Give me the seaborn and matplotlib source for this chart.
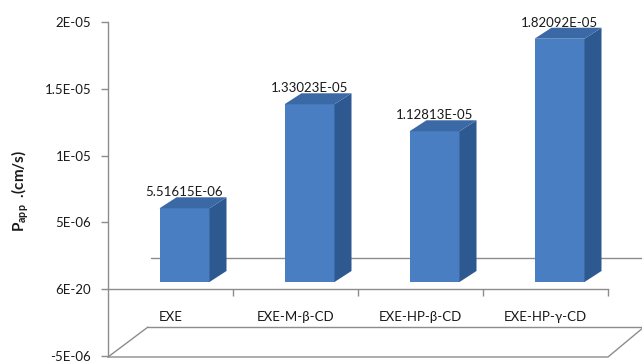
import matplotlib
matplotlib.use("Agg")
import matplotlib.pyplot as plt
import seaborn as sns
import pandas as pd
from matplotlib.patches import Polygon

# Apparent permeability per formulation
categories = ["EXE", "EXE-M-β-CD", "EXE-HP-β-CD", "EXE-HP-γ-CD"]
papp_values = [5.51615e-06, 1.33023e-05, 1.12813e-05, 1.82092e-05]
ytick_values = [2e-05, 1.5e-05, 1e-05, 5e-06, 0.0, -5e-06]
ytick_labels = ["2E-05", "1.5E-05", "1E-05", "5E-06", "6E-20", "-5E-06"]

sns.set_style("white")
plt.rcParams["font.family"] = ["Lato", "DejaVu Sans"]
plt.rcParams["mathtext.fontset"] = "custom"
plt.rcParams["mathtext.rm"] = "Lato"
plt.rcParams["mathtext.bf"] = "Lato:bold"

W, H = 642, 362
fig = plt.figure(figsize=(W / 100, H / 100), dpi=100)
AX_L, AX_R, AX_T, AX_B = 108, 642, 22, 356
ax = fig.add_axes([AX_L / W, 1 - AX_B / H, (AX_R - AX_L) / W, (AX_B - AX_T) / H])

YMIN, YMAX = -5e-06, 2e-05
SLOT = 125.0                      # pixels per category
XMIN = -(184.5 - AX_L) / SLOT
XMAX = XMIN + (AX_R - AX_L) / SLOT
SHIFT = 0.112                     # perspective shift of the columns inside each slot


def to_data(px, py):
    """Pixel position inside the figure -> data coordinates."""
    x = XMIN + (px - AX_L) / (AX_R - AX_L) * (XMAX - XMIN)
    y = YMAX - (py - AX_T) / (AX_B - AX_T) * (YMAX - YMIN)
    return x, y


FRONT = "#4A7EC2"
SIDE = "#2E5890"
TOP = "#3A69A6"
FRAME = "#8C8C8C"
TEXT = "#1A1A1A"

floor_level = to_data(0, 282)[1]   # plane the columns stand on

df = pd.DataFrame({"group": categories, "papp": papp_values})
sns.barplot(data=df, x="group", y="papp", order=categories, width=0.4,
            color=FRONT, saturation=1, errorbar=None, bottom=floor_level,
            edgecolor="none", linewidth=0, zorder=3, ax=ax)

ax.set_xlim(XMIN, XMAX)
ax.set_ylim(YMIN, YMAX)

# depth faces of the columns
dx = 17 / SLOT
dy = 11 / (AX_B - AX_T) * (YMAX - YMIN)
bars = list(ax.patches)
for bar, v in zip(bars, papp_values):
    x0 = bar.get_x()
    x1 = x0 + bar.get_width()
    y0 = bar.get_y()
    y1 = y0 + bar.get_height()
    ax.add_patch(Polygon([(x1, y0), (x1 + dx, y0 + dy), (x1 + dx, y1 + dy), (x1, y1)],
                         closed=True, fc=SIDE, ec="none", zorder=3))
    ax.add_patch(Polygon([(x0, y1), (x1, y1), (x1 + dx, y1 + dy), (x0 + dx, y1 + dy)],
                         closed=True, fc=TOP, ec="none", zorder=3))
    ax.annotate(f"{v:.5E}", (x0 + bar.get_width() / 2, y1), xytext=(0, 11.5),
                textcoords="offset points", ha="center", va="center",
                fontsize=9.5, color=TEXT, zorder=5)

# back edge of the base plane
bx0, by = to_data(151, 258)
ax.plot([bx0, XMAX], [by, by], color=FRAME, lw=1, zorder=1, clip_on=False)

# floor outline below the category labels
f_bl = to_data(108, 357)
f_tl = to_data(148, 327)
f_br = to_data(608, 357)
f_tr = to_data(644, 327)
ax.plot([f_bl[0], f_tl[0]], [f_bl[1], f_tl[1]], color=FRAME, lw=1, clip_on=False)
ax.plot([f_tl[0], XMAX], [f_tl[1], f_tl[1]], color=FRAME, lw=1, clip_on=False)
ax.plot([f_bl[0], f_br[0], f_tr[0]], [f_bl[1], f_br[1], f_tr[1]],
        color=FRAME, lw=1, clip_on=False)

# axes styling
for side in ("top", "right"):
    ax.spines[side].set_visible(False)
ax.spines["left"].set_color(FRAME)
ax.spines["left"].set_linewidth(1)
ax.spines["bottom"].set_position(("data", 0))
ax.spines["bottom"].set_color(FRAME)
ax.spines["bottom"].set_linewidth(1)
ax.spines["bottom"].set_bounds(XMIN, len(categories) - 1 + 0.5 - SHIFT)

ax.set_yticks(ytick_values, labels=ytick_labels)
ax.tick_params(axis="y", length=5, width=1, color=FRAME, pad=7,
               labelsize=9.5, labelcolor=TEXT, left=True)

label_pos = [i - SHIFT for i in range(len(categories))]
ax.set_xticks(label_pos, labels=categories)
ax.set_xticks([i + 0.5 - SHIFT for i in range(len(categories))], minor=True)
ax.tick_params(axis="x", which="major", length=0, pad=16, labelsize=9.5,
               labelcolor=TEXT)
ax.tick_params(axis="x", which="minor", length=5, width=1, color=FRAME,
               bottom=True, direction="out")
ax.set_xlabel("")
ax.set_ylabel("")

fig.text(20 / W, 1 - 191 / H, r"$\mathbf{P_{app}}$  .(cm/s)", rotation=90,
         ha="center", va="center", fontsize=11, fontweight="bold", color=TEXT)

fig.savefig("out.png", dpi=100, facecolor="white")
